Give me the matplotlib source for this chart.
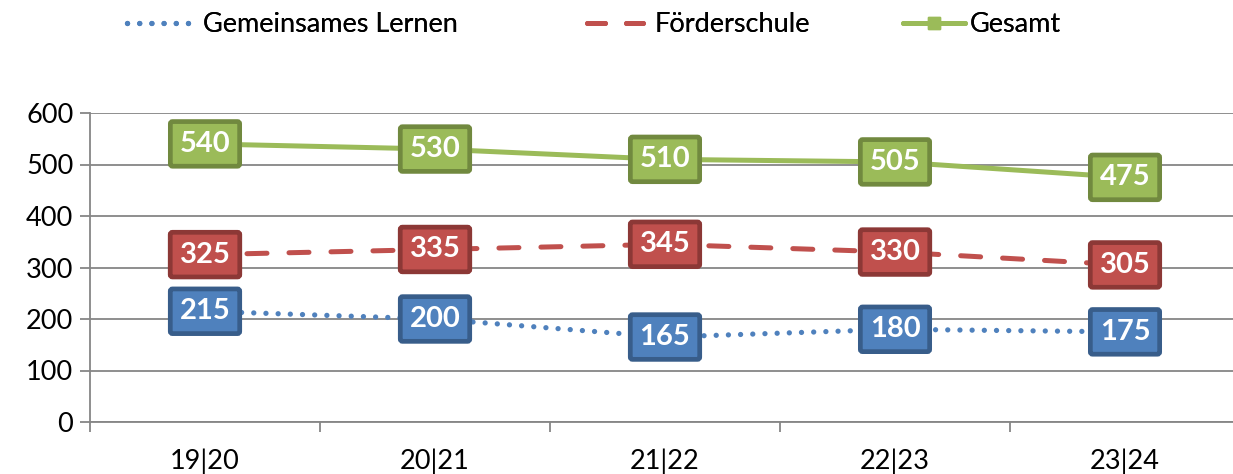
import matplotlib
matplotlib.use("Agg")
import matplotlib.pyplot as plt
from matplotlib.lines import Line2D
import numpy as np

categories = ["19|20", "20|21", "21|22", "22|23", "23|24"]
gemeinsames = [215, 200, 165, 180, 175]
foerderschule = [325, 335, 345, 330, 305]
gesamt = [540, 530, 510, 505, 475]
series_names = ["Gemeinsames Lernen", "Förderschule", "Gesamt"]

plt.rcParams['font.family'] = ['Lato', 'DejaVu Sans']

W, H = 1233, 474
fig = plt.figure(figsize=(W / 100, H / 100), dpi=100)
ax = fig.add_axes([90 / W, 52 / H, 1150 / W, 309 / H])

x = np.arange(len(categories))
blue, blue_e = "#4F81BD", "#385D8A"
red, red_e = "#C0504D", "#8C3836"
green, green_e = "#9BBB59", "#71893F"

dot_lw = 3.8
dot_style = (0, (0.01, 2.3))
dash_style = (0, (4.0, 4.4))
line_lw = 3.6

ax.plot(x, gemeinsames, color=blue, lw=dot_lw, linestyle=dot_style,
        dash_capstyle='round', zorder=3)
ax.plot(x, foerderschule, color=red, lw=line_lw, linestyle=dash_style,
        dash_capstyle='round', zorder=3)
ax.plot(x, gesamt, color=green, lw=line_lw, solid_capstyle='round', zorder=3)

for vals, fc, ec in [(gemeinsames, blue, blue_e), (foerderschule, red, red_e), (gesamt, green, green_e)]:
    for xi, v in zip(x, vals):
        ax.annotate(str(v), (xi, v), ha='center', va='center', fontsize=21,
                    fontweight='bold', color='white', zorder=5,
                    bbox=dict(boxstyle='round,pad=0.32,rounding_size=0.08',
                              fc=fc, ec=ec, lw=3.4))

ax.set_xlim(-0.5, 4.5)
ax.set_ylim(0, 600)
ax.set_yticks(range(0, 601, 100))
ax.set_xticks(x)
ax.set_xticklabels(categories)
ax.set_xticks(np.arange(-0.5, 4.6, 1), minor=True)
ax.tick_params(axis='x', which='major', length=0, pad=19, labelsize=19.5)
ax.tick_params(axis='x', which='minor', length=7, width=1.3, color='#868686', direction='out')
ax.tick_params(axis='y', length=7, width=1.3, color='#868686', labelsize=19.5, pad=5)
ax.yaxis.grid(True, color='#868686', lw=1.3)
ax.set_axisbelow(True)
for s in ['top', 'right']:
    ax.spines[s].set_visible(False)
for s in ['left', 'bottom']:
    ax.spines[s].set_color('#868686')
    ax.spines[s].set_linewidth(1.3)

handles = [
    Line2D([], [], color=blue, lw=dot_lw, linestyle=dot_style, dash_capstyle='round'),
    Line2D([], [], color=red, lw=line_lw, linestyle=(0, (3.6, 4.2)), dash_capstyle='round'),
    Line2D([], [], color=green, lw=line_lw, marker='s', markersize=8, markerfacecolor=green,
           markeredgecolor=green, solid_capstyle='round'),
]
starts = [127, 587, 903]
hl = [2.3, 2.05, 2.3]
tp = [0.5, 0.45, 0.15]
for h, name, sx, l, p in zip(handles, series_names, starts, hl, tp):
    leg = fig.legend([h], [name], loc='center left', bbox_to_anchor=(sx / W, 1 - 25 / H),
                     frameon=False, fontsize=19.5, handlelength=l, handletextpad=p,
                     borderpad=0, borderaxespad=0)
    fig.add_artist(leg)

fig.savefig("out.png", dpi=100)
